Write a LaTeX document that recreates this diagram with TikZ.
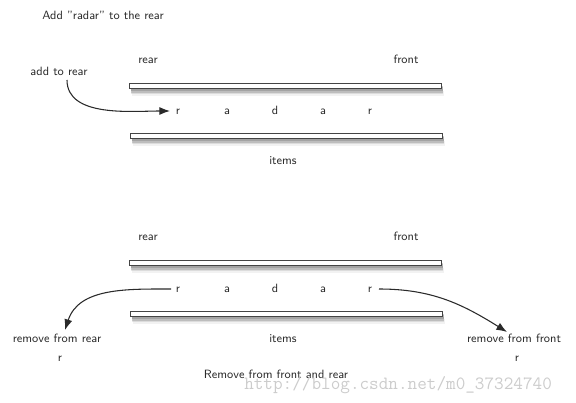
\documentclass[tikz,border=0pt]{standalone}
\usetikzlibrary{arrows.meta,shadows}
\definecolor{ink}{HTML}{2A2A2A}
\definecolor{edge}{HTML}{444444}
\begin{document}
\begin{tikzpicture}[x=0.75pt,y=-0.75pt,
  lbl/.style={font=\sffamily\fontsize{9}{11}\selectfont, text=ink, inner sep=0pt, anchor=base},
  bar/.style={draw=edge, line width=1pt, fill=white, minimum width=234pt, minimum height=3.8pt, inner sep=0pt,
    drop shadow={shadow xshift=0.8pt, shadow yshift=-1.8pt, fill=black, opacity=0.18},
    drop shadow={shadow xshift=1pt, shadow yshift=-3pt, fill=black, opacity=0.14},
    drop shadow={shadow xshift=1.3pt, shadow yshift=-4.2pt, fill=black, opacity=0.09},
    drop shadow={shadow xshift=1.5pt, shadow yshift=-5.4pt, fill=black, opacity=0.05}},
  conn/.style={draw=ink, line width=0.8pt, -{Latex[length=8pt,width=6pt]}}]
\useasboundingbox (0,0) rectangle (576,403);
% ---------- top panel ----------
\node[lbl, anchor=base west] (title) at (42,20) {Add ''radar'' to the rear};
\node[lbl] (rearA) at (148,64) {rear};
\node[lbl] (frontA) at (406,64) {front};
\node[lbl] (addrear) at (59,76) {add to rear};
\node[bar] (barA1) at (285.5,86) {};
\node[bar] (barA2) at (286.5,136) {};
\node[lbl] (a1) at (178,115) {r};
\node[lbl] (a2) at (227,115) {a};
\node[lbl] (a3) at (275,115) {d};
\node[lbl] (a4) at (323,115) {a};
\node[lbl] (a5) at (370,115) {r};
\node[lbl] (itemsA) at (283,165) {items};
\coordinate (tipA) at (170,111);
\draw[conn] (67,80) to[out=-90, in=180, looseness=0.9] (tipA);
% ---------- bottom panel ----------
\node[lbl] (rearB) at (148,241) {rear};
\node[lbl] (frontB) at (406,241) {front};
\node[bar] (barB1) at (285.5,263) {};
\node[bar] (barB2) at (286.5,314) {};
\node[lbl] (b1) at (178,293) {r};
\node[lbl] (b2) at (227,293) {a};
\node[lbl] (b3) at (275,293) {d};
\node[lbl] (b4) at (323,293) {a};
\node[lbl] (b5) at (370,293) {r};
\node[lbl] (itemsB) at (283,343) {items};
\node[lbl] (remrear) at (57,343) {remove from rear};
\node[lbl] (rr) at (60,362) {r};
\node[lbl] (remfront) at (514,343) {remove from front};
\node[lbl] (rf) at (517,362) {r};
\node[lbl] (caption) at (276,378.5) {Remove from front and rear};
\coordinate (startL) at (171,289);
\coordinate (endL) at (65,330);
\coordinate (startR) at (379,289);
\coordinate (endR) at (507,332);
\draw[conn] (startL) to[out=180, in=72] (endL);
\draw[conn] (startR) to[out=0, in=148] (endR);
% watermark
\node[font=\ttfamily\fontsize{14}{16}\selectfont, text=black!20, inner sep=0pt, anchor=base west] (wm) at (244,389) {http://blog.csdn.net/m0\_37324740};
\end{tikzpicture}
\end{document}
